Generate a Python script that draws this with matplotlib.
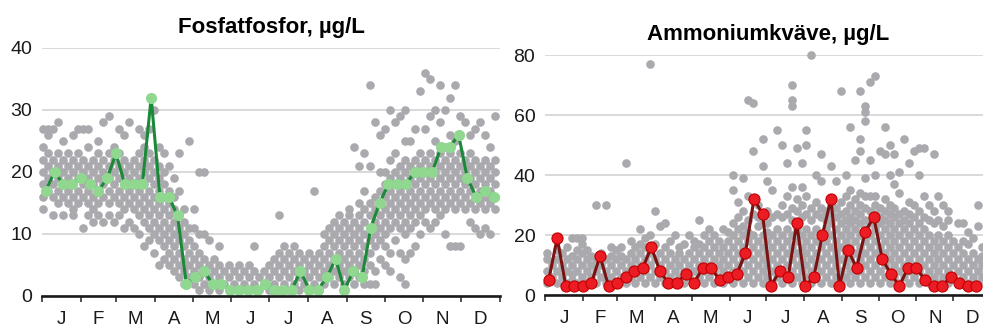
import numpy as np
import matplotlib.pyplot as plt

plt.rcParams['font.family'] = ['Liberation Sans', 'DejaVu Sans']

months = ['J', 'F', 'M', 'A', 'M', 'J', 'J', 'A', 'S', 'O', 'N', 'D']
month_start = [0, 31, 59, 90, 120, 151, 181, 212, 243, 273, 304, 334, 365]

# weekly values for the current year
week_day = 3 + 7 * np.arange(52)
po4_year = [17, 20, 18, 18, 19, 18, 17, 19, 23, 18, 18, 18, 32, 16, 16, 13, 2, 3, 4, 2,
            2, 1, 1, 1, 1, 2, 1, 1, 1, 4, 1, 1, 3, 6, 1, 4, 3, 11, 15, 18,
            18, 18, 20, 20, 20, 24, 24, 26, 19, 16, 17, 16]
nh4_year = [5, 19, 3, 3, 3, 4, 13, 3, 4, 6, 8, 9, 16, 8, 4, 4, 7, 4, 9, 9,
            5, 6, 7, 14, 32, 27, 3, 8, 6, 24, 3, 6, 20, 32, 3, 15, 9, 21, 26, 12,
            7, 3, 9, 9, 5, 3, 3, 6, 4, 3, 3]

# earlier years, read column by column (one list per sampling day)
po4_days = list(range(1, 362, 4))
po4_hist = [
    # Jan
    [14, 16, 18, 20, 22, 24, 27], [17, 19, 21, 23, 26, 27], [13, 16, 18, 20, 22, 27],
    [15, 17, 19, 21, 23, 28], [13, 16, 18, 20, 22, 25], [15, 17, 19, 21, 23],
    [13, 14, 16, 18, 20, 22, 26], [15, 17, 19, 21, 23, 27],
    # Feb
    [11, 16, 18, 20, 22, 27], [13, 15, 17, 19, 21, 24, 27], [12, 14, 16, 18, 20, 22],
    [13, 15, 17, 19, 21, 23, 25], [12, 16, 18, 20, 22, 28], [13, 15, 17, 19, 21, 23, 29],
    [12, 16, 18, 20, 22, 24],
    # Mar
    [13, 15, 17, 19, 21, 23, 27], [11, 14, 16, 18, 20, 22, 26], [12, 15, 17, 19, 21, 28],
    [11, 14, 16, 18, 20, 22], [10, 13, 15, 17, 19, 21, 23, 27], [8, 12, 14, 16, 18, 20, 22, 24, 26],
    [9, 11, 13, 15, 17, 19, 21, 23, 27], [7, 10, 12, 14, 16, 18, 20, 22, 30],
    # Apr
    [5, 9, 11, 13, 15, 17, 19, 21, 24], [6, 8, 10, 12, 14, 16, 18, 20, 23], [5, 7, 9, 11, 13, 15, 17, 21],
    [4, 6, 8, 10, 12, 14, 16, 19], [3, 5, 7, 9, 11, 13, 17, 23], [2, 4, 6, 8, 10, 12, 14],
    [3, 5, 7, 9, 11, 25],
    # May
    [2, 4, 6, 8, 11, 14], [1, 3, 5, 7, 10, 20], [2, 4, 6, 10, 20], [1, 3, 5, 9],
    [2, 4, 6], [1, 3, 5, 8], [2, 4], [1, 3, 5],
    # Jun
    [2, 4], [1, 3, 5], [2, 4], [1, 3, 5], [2, 4, 8], [1, 3], [2, 4],
    # Jul
    [1, 3, 5], [2, 4, 6], [1, 3, 5, 7, 13], [2, 4, 6, 8], [1, 3, 5, 7], [2, 4, 6, 8],
    [1, 3, 5, 7], [2, 4, 6],
    # Aug
    [1, 3, 5, 7], [2, 4, 6, 17], [1, 3, 5, 7], [2, 4, 6, 8, 10], [3, 5, 7, 9, 11],
    [2, 4, 6, 8, 10, 12], [3, 5, 7, 9, 11, 13], [2, 4, 6, 8, 10, 12],
    # Sep
    [3, 5, 7, 9, 11, 13, 14], [2, 4, 6, 8, 10, 12, 24], [3, 5, 7, 9, 11, 13, 15, 21],
    [2, 4, 6, 8, 10, 12, 14, 17, 23], [2, 5, 7, 9, 11, 13, 15, 21, 34], [2, 4, 8, 10, 12, 14, 16, 28],
    [6, 9, 11, 13, 15, 17, 20, 26],
    # Oct
    [5, 8, 10, 12, 14, 16, 18, 20, 27], [4, 7, 11, 13, 15, 17, 19, 22, 30], [9, 12, 14, 16, 18, 20, 23, 28],
    [3, 7, 11, 13, 15, 17, 19, 21, 29], [2, 6, 10, 12, 14, 16, 18, 20, 22, 25, 30],
    [7, 11, 13, 15, 17, 19, 21, 25], [8, 12, 14, 16, 18, 20, 22, 27], [10, 13, 15, 17, 19, 21, 23, 33],
    # Nov
    [12, 14, 16, 18, 20, 22, 27, 36], [11, 15, 17, 19, 21, 23, 29, 35], [12, 14, 16, 18, 20, 22, 25, 30],
    [13, 15, 17, 19, 21, 23, 28, 34], [10, 14, 16, 18, 20, 22, 24, 30], [8, 15, 17, 19, 21, 23, 26, 32],
    [8, 14, 16, 18, 20, 22, 25, 34], [8, 15, 17, 19, 21, 23, 29],
    # Dec
    [14, 16, 18, 20, 22, 28], [12, 15, 17, 19, 21, 23, 26], [11, 14, 16, 18, 20, 22, 27],
    [10, 15, 17, 19, 21, 28], [11, 14, 16, 18, 20, 22, 26], [10, 15, 17, 19, 21, 24],
    [14, 16, 18, 20, 22, 29],
]

nh4_days = list(range(2, 363, 4))
nh4_hist = [
    # Jan
    [4, 8, 12, 14], [6, 10], [4, 8, 12, 15], [6, 10, 14], [4, 8, 12, 16], [5, 7, 10, 13, 19],
    [4, 8, 12, 15, 19], [6, 10, 14, 17, 19],
    # Feb
    [4, 8, 12, 15], [6, 10, 13], [4, 8, 12, 30], [6, 10, 14], [4, 8, 12, 30], [6, 10, 13, 16],
    [4, 8, 12, 15],
    # Mar
    [6, 10, 13, 16], [4, 8, 12, 44], [6, 10, 14, 18], [4, 8, 12, 16], [6, 10, 14, 17, 22],
    [4, 8, 12, 16, 19], [6, 10, 14, 20, 77], [4, 8, 12, 17, 28],
    # Apr
    [6, 10, 14, 23], [4, 8, 12, 16, 24], [6, 10, 14, 18], [4, 8, 12, 20], [6, 10, 14, 16],
    [4, 8, 12, 17], [6, 10, 14, 20],
    # May
    [4, 8, 12, 16, 18], [6, 10, 14, 17, 25], [4, 8, 12, 16, 20], [6, 10, 14, 18, 22],
    [4, 8, 12, 16, 20], [6, 10, 14, 18], [4, 8, 12, 16, 22], [6, 10, 14, 18, 21],
    # Jun
    [4, 8, 12, 16, 20, 24, 35, 40], [6, 10, 14, 18, 22, 26, 31], [4, 8, 12, 16, 20, 23, 28, 39],
    [6, 10, 14, 18, 21, 25, 33, 65], [4, 8, 12, 16, 20, 27, 48, 64], [6, 10, 14, 18, 23, 26, 30],
    [4, 8, 12, 16, 20, 25, 43, 52],
    # Jul
    [6, 10, 14, 18, 21, 24, 28, 38], [4, 8, 12, 16, 20, 26, 35], [6, 10, 14, 18, 22, 27, 55],
    [4, 8, 12, 16, 20, 26, 30, 50], [6, 10, 14, 18, 22, 27, 33, 44],
    [4, 8, 12, 16, 20, 25, 29, 36, 63, 65, 70], [6, 10, 14, 18, 22, 28, 32, 49],
    [4, 8, 12, 16, 20, 26, 30, 36, 44],
    # Aug
    [6, 10, 14, 18, 22, 27, 33, 50, 55], [4, 8, 12, 16, 20, 25, 29, 80], [6, 10, 14, 18, 22, 27, 31, 40],
    [4, 8, 12, 16, 20, 26, 29, 38, 47], [6, 10, 14, 18, 22, 25, 28], [4, 8, 12, 16, 20, 24, 27, 30, 43],
    [6, 10, 14, 18, 22, 26, 29, 38], [4, 8, 12, 16, 20, 24, 27, 31, 68],
    # Sep
    [6, 10, 14, 18, 22, 25, 28, 33, 40], [4, 8, 12, 16, 20, 24, 26, 30, 35, 56],
    [6, 10, 14, 18, 22, 25, 28, 32, 45], [4, 8, 12, 16, 20, 24, 27, 30, 34, 48, 52, 68],
    [6, 10, 14, 18, 22, 25, 29, 33, 39, 58, 61, 63], [4, 8, 12, 16, 20, 24, 28, 33, 45, 71],
    [6, 10, 14, 18, 22, 25, 27, 30, 33, 40, 73],
    # Oct
    [4, 8, 12, 16, 20, 24, 26, 29, 48], [6, 10, 14, 18, 22, 25, 28, 32, 47, 56],
    [4, 8, 12, 16, 20, 24, 27, 30, 40, 50], [6, 10, 14, 18, 22, 26, 29, 37, 47],
    [4, 8, 12, 16, 20, 24, 27, 34, 41], [6, 10, 14, 18, 22, 25, 28, 52],
    [4, 8, 12, 16, 20, 24, 27, 31, 44], [6, 10, 14, 18, 22, 26, 30, 48],
    # Nov
    [4, 8, 12, 16, 20, 24, 28, 40, 49], [6, 10, 14, 18, 22, 26, 33, 49], [4, 8, 12, 16, 20, 25, 30],
    [6, 10, 14, 18, 24, 28, 47], [4, 8, 12, 16, 20, 25, 33], [6, 10, 14, 18, 23, 30],
    [4, 8, 12, 16, 20, 25, 28], [6, 10, 14, 18],
    # Dec
    [4, 8, 12, 16, 24], [6, 10, 14, 18, 24], [4, 8, 12, 17, 21], [6, 10, 14, 19],
    [4, 8, 12, 23, 30], [6, 10, 13, 16], [4, 8, 12, 18],
]


def flatten(days, cols):
    xs, ys = [], []
    for d, vals in zip(days, cols):
        xs += [d] * len(vals)
        ys += vals
    return xs, ys


def style_axis(ax, ymax, ystep):
    ax.set_xlim(0, 365)
    ax.set_ylim(0, ymax)
    ax.set_yticks(np.arange(0, ymax + 1, ystep))
    ax.grid(axis='y', color='#cfcfcf', lw=1.1, zorder=0)
    ax.set_axisbelow(True)
    for s in ['left', 'right', 'top']:
        ax.spines[s].set_visible(False)
    ax.spines['bottom'].set_color('#1a1a1a')
    ax.spines['bottom'].set_linewidth(1.9)
    ax.spines['bottom'].set_zorder(5)
    ax.tick_params(axis='y', length=0, pad=7, labelsize=14, labelcolor='#1a1a1a')
    ax.set_xticks(month_start)
    ax.set_xticklabels([])
    mids = [(a + b) / 2 for a, b in zip(month_start[:-1], month_start[1:])]
    ax.set_xticks(mids, minor=True)
    ax.set_xticklabels(months, minor=True)
    ax.tick_params(axis='x', which='major', length=4, width=1.2, color='#333333')
    ax.tick_params(axis='x', which='minor', length=0, pad=10.5, labelsize=13.5, labelcolor='#1a1a1a')


fig = plt.figure(figsize=(9.83, 3.29), dpi=100)
W, H = 983, 329

ax1 = fig.add_axes([42 / W, (H - 296) / H, 458 / W, 248 / H])
style_axis(ax1, 40, 10)
hx, hy = flatten(po4_days, po4_hist)
ax1.plot(hx, hy, 'o', ms=6.2, mew=0, color='#a9a9ae', zorder=2, clip_on=False)
ax1.plot(week_day, po4_year, '-', color='#1b8a38', lw=2.2, zorder=3)
ax1.plot(week_day, po4_year, 'o', ms=8, mew=0, color='#90d890', zorder=4, clip_on=False)
ax1.set_title('Fosfatfosfor, µg/L', fontsize=16, fontweight='bold', pad=11)

ax2 = fig.add_axes([545 / W, (H - 295) / H, 446 / W, 240 / H])
style_axis(ax2, 80, 20)
hx, hy = flatten(nh4_days, nh4_hist)
ax2.plot(hx, hy, 'o', ms=6.2, mew=0, color='#a9a9ae', zorder=2, clip_on=False)
ax2.plot(week_day[:len(nh4_year)], nh4_year, '-', color='#7a1212', lw=2.2, zorder=3)
ax2.plot(week_day[:len(nh4_year)], nh4_year, 'o', ms=8, mew=0.8, mec='#c00000',
         color='#ec1c24', zorder=4, clip_on=False)
ax2.set_title('Ammoniumkväve, µg/L', fontsize=16, fontweight='bold', pad=11)

fig.savefig('out.png', dpi=100)
